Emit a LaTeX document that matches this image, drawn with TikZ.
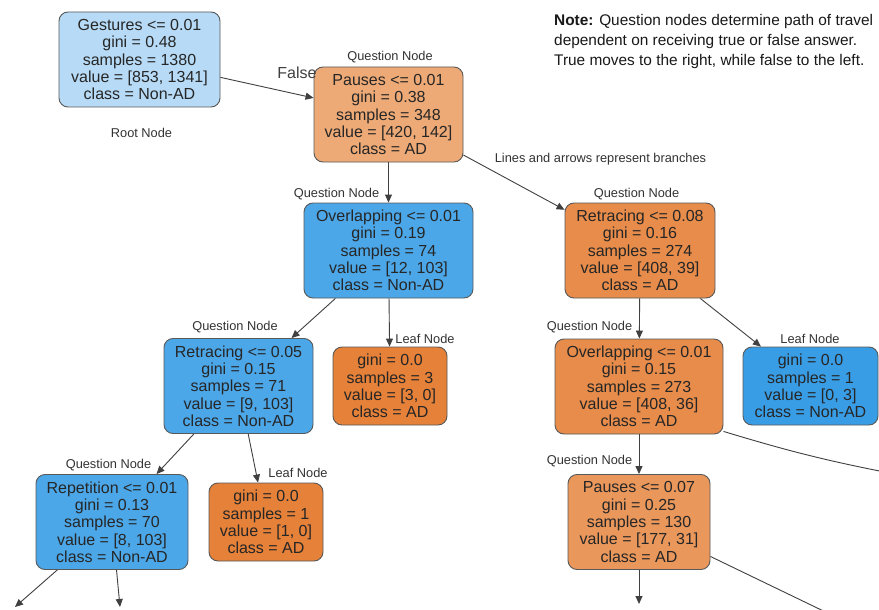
\documentclass[tikz,border=0pt]{standalone}
\usepackage{fontspec}
\setmainfont{Liberation Sans}
\usetikzlibrary{arrows.meta}

\definecolor{nonadpale}{HTML}{B7DBF6}
\definecolor{nonadmid}{HTML}{4CA7E8}
\definecolor{nonadfull}{HTML}{399DE5}
\definecolor{adpale}{HTML}{EEAA76}
\definecolor{admid}{HTML}{E78C4A}
\definecolor{adsoft}{HTML}{EA975C}
\definecolor{adfull}{HTML}{E58139}

\begin{document}
\begin{tikzpicture}[x=1pt,y=-1pt,
        box/.style={draw=black!65,line width=0.9pt,rounded corners=9pt,align=center,text=black!85,
                font=\fontsize{16}{17.3}\selectfont,minimum height=95pt,inner sep=0pt},
        leaf/.style={box,minimum height=78pt},
        tag/.style={text=black!80,font=\fontsize{12.8}{14}\selectfont,inner sep=0pt},
        branch/.style={draw=black!75,line width=0.9pt,-{Triangle[length=8pt,width=7pt]}},
        stub/.style={draw=black!75,line width=0.9pt}]

        \path[use as bounding box,fill=white] (0,0) rectangle (879,610);


        \node[box,fill=nonadpale,minimum width=161pt] (root) at (139.5,59.5) {Gestures <= 0.01\\gini = 0.48\\samples = 1380\\value = [853, 1341]\\class = Non-AD};
        \node[box,fill=adpale,minimum width=149pt] (pauses) at (388.5,114.5) {Pauses <= 0.01\\gini = 0.38\\samples = 348\\value = [420, 142]\\class = AD};

        \node[box,fill=nonadmid,minimum width=169pt] (overlapA) at (388.5,250.5) {Overlapping <= 0.01\\gini = 0.19\\samples = 74\\value = [12, 103]\\class = Non-AD};
        \node[box,fill=admid,minimum width=150pt] (retraceA) at (640,250.5) {Retracing <= 0.08\\gini = 0.16\\samples = 274\\value = [408, 39]\\class = AD};

        \node[box,fill=nonadmid,minimum width=149pt] (retraceB) at (238.5,386) {Retracing <= 0.05\\gini = 0.15\\samples = 71\\value = [9, 103]\\class = Non-AD};
        \node[leaf,fill=adfull,minimum width=114pt] (leafA) at (390,386) {gini = 0.0\\samples = 3\\value = [3, 0]\\class = AD};
        \node[box,fill=admid,minimum width=168pt] (overlapB) at (639,386.5) {Overlapping <= 0.01\\gini = 0.15\\samples = 273\\value = [408, 36]\\class = AD};
        \node[leaf,fill=nonadfull,minimum width=135pt] (leafB) at (810.5,386) {gini = 0.0\\samples = 1\\value = [0, 3]\\class = Non-AD};

        \node[box,fill=nonadmid,minimum width=152pt] (repet) at (112,522) {Repetition <= 0.01\\gini = 0.13\\samples = 70\\value = [8, 103]\\class = Non-AD};
        \node[leaf,fill=adfull,minimum width=114pt] (leafC) at (266,522) {gini = 0.0\\samples = 1\\value = [1, 0]\\class = AD};
        \node[box,fill=adsoft,minimum width=142pt] (pausesB) at (639,522) {Pauses <= 0.07\\gini = 0.25\\samples = 130\\value = [177, 31]\\class = AD};


        \coordinate (repL) at (15,607);
        \coordinate (repR) at (120,607);
        \coordinate (pauL) at (639,604);
        \coordinate (pauR) at (840,619);
        \coordinate (ovlR) at (900,475);

        \draw[branch] (root) -- (pauses);
        \draw[branch] (pauses) -- (overlapA);
        \draw[branch] (pauses) -- (retraceA);
        \draw[branch] (overlapA) -- (retraceB);
        \draw[branch] (overlapA) -- (leafA);
        \draw[branch] (retraceA) -- (overlapB);
        \draw[branch] (retraceA) -- (leafB);
        \draw[branch] (retraceB) -- (repet);
        \draw[branch] (retraceB) -- (leafC);
        \draw[branch] (overlapB) -- (pausesB);
        \draw[branch] (repet) -- (repL);
        \draw[branch] (repet) -- (repR);
        \draw[branch] (pausesB) -- (pauL);
        \draw[stub] (pausesB) -- (pauR);
        \draw[stub] (overlapB.-28) to[bend right=3] (ovlR);


        \node[text=black!75,font=\fontsize{16}{18}\selectfont,inner sep=0pt] (falsetag) at (297,73) {False};
        \node[tag] (roottag) at (141.5,133) {Root Node};
        \node[tag] (qtagA) at (390,57) {Question Node};
        \node[tag] (linetag) at (600.5,159) {Lines and arrows represent branches};
        \node[tag] (qtagB) at (336.5,194) {Question Node};
        \node[tag] (qtagC) at (636.5,194) {Question Node};
        \node[tag] (qtagD) at (235,327) {Question Node};
        \node[tag] (ltagA) at (425,339) {Leaf Node};
        \node[tag] (qtagE) at (589.5,327) {Question Node};
        \node[tag] (ltagB) at (810,339) {Leaf Node};
        \node[tag] (qtagF) at (108.5,465) {Question Node};
        \node[tag] (ltagC) at (298,473) {Leaf Node};
        \node[tag] (qtagG) at (589.5,461) {Question Node};

        \node[anchor=north west,align=left,inner sep=0pt,text=black!90,font=\fontsize{15.4}{20}\selectfont] (note) at (554,14)
                {\textbf{Note:} Question nodes determine path of travel\\dependent on receiving true or false answer.\\True moves to the right, while false to the left.};
    \end{tikzpicture}
\end{document}
